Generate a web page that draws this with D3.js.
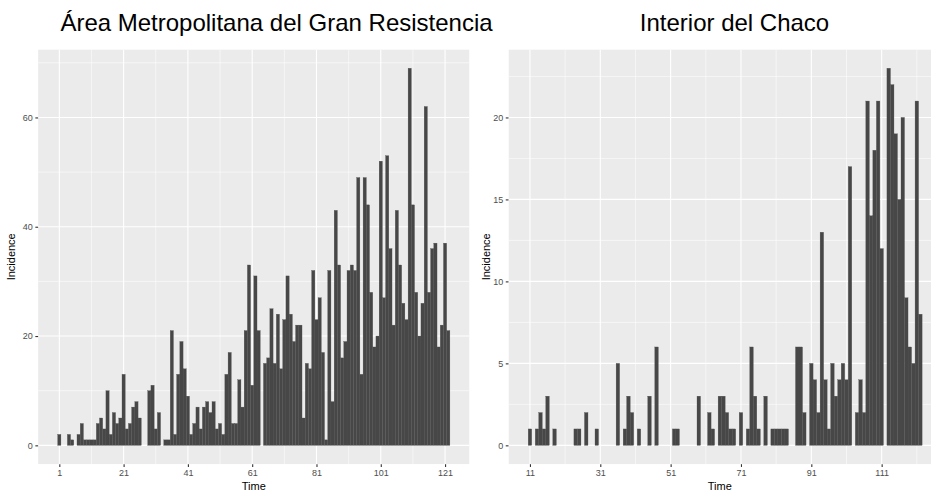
<!DOCTYPE html>
<html>
<head>
<meta charset="utf-8">
<script src="https://d3js.org/d3.v7.min.js"></script>
<style>
  body { margin: 0; background: #fff; }
  svg { display: block; font-family: "Liberation Sans", Arial, sans-serif; }
</style>
</head>
<body>
<div id="chart"></div>
<script>
// daily incidence
var amgrFirstDay = 1;
var amgrIncidence = [
  2, 0, 0, 2, 1, 0, 2, 4, 1, 1, 1, 1, 4, 5, 3, 10, 2, 6, 4, 5,
  13, 3, 4, 7, 8, 5, 0, 0, 10, 11, 3, 6, 0, 1, 1, 21, 2, 13, 19, 14,
  9, 2, 4, 7, 3, 7, 8, 6, 8, 3, 4, 2, 13, 17, 4, 4, 12, 7, 21, 33,
  11, 31, 21, 0, 15, 16, 25, 15, 24, 14, 23, 31, 24, 19, 22, 22, 5, 15, 14, 32,
  23, 27, 17, 1, 32, 8, 43, 33, 16, 19, 32, 33, 32, 49, 13, 49, 44, 28, 18, 20,
  52, 27, 53, 36, 22, 43, 33, 26, 23, 69, 44, 28, 20, 26, 62, 28, 36, 37, 18, 22,
  37, 21
];

var chacoFirstDay = 11;
var chacoIncidence = [
  1, 0, 1, 2, 1, 3, 0, 1, 0, 0, 0, 0, 0, 1, 1, 0, 2, 0, 0, 1,
  0, 0, 0, 0, 0, 5, 0, 1, 3, 2, 0, 1, 0, 0, 3, 0, 6, 0, 0, 0,
  0, 1, 1, 0, 0, 0, 0, 0, 3, 0, 0, 2, 1, 0, 3, 3, 2, 1, 1, 0,
  2, 0, 1, 6, 3, 1, 0, 3, 0, 1, 1, 1, 1, 1, 0, 0, 6, 6, 2, 0,
  5, 4, 2, 13, 4, 1, 5, 3, 4, 5, 4, 17, 0, 2, 4, 2, 21, 14, 18, 21,
  12, 0, 23, 22, 19, 15, 20, 9, 6, 5, 21, 8
];

var amgrXTicks = [1, 21, 41, 61, 81, 101, 121];
var amgrYTicks = [0, 20, 40, 60];
var chacoXTicks = [11, 31, 51, 71, 91, 111];
var chacoYTicks = [0, 5, 10, 15, 20];

var svgWidth = 931;
var svgHeight = 495;

var svg = d3.select("#chart")
  .append("svg")
  .attr("width", svgWidth)
  .attr("height", svgHeight);

function toRows(first, values) {
  return values.map(function(v, i) {
    return { day: first + i, value: v };
  });
}

function midpoints(ticks) {
  var m = [];
  for (var i = 0; i < ticks.length - 1; i++) {
    m.push((ticks[i] + ticks[i + 1]) / 2);
  }
  // one step past each end as well, clipped later
  var step = ticks[1] - ticks[0];
  m.unshift(ticks[0] - step / 2);
  m.push(ticks[ticks.length - 1] + step / 2);
  return m;
}

function drawPanel(opt) {
  var rows = toRows(opt.firstDay, opt.values);

  var x = d3.scaleLinear().domain(opt.xDomain).range([opt.left, opt.right]);
  var y = d3.scaleLinear().domain(opt.yDomain).range([opt.bottom, opt.top]);

  var clipId = "clip-" + opt.id;
  svg.append("clipPath").attr("id", clipId)
    .append("rect")
    .attr("x", opt.left).attr("y", opt.top)
    .attr("width", opt.right - opt.left)
    .attr("height", opt.bottom - opt.top);

  var g = svg.append("g").attr("clip-path", "url(#" + clipId + ")");

  g.append("rect")
    .attr("x", opt.left).attr("y", opt.top)
    .attr("width", opt.right - opt.left)
    .attr("height", opt.bottom - opt.top)
    .attr("fill", "#ebebeb");

  // minor grid
  g.selectAll(".xminor").data(midpoints(opt.xTicks)).enter()
    .append("line")
    .attr("x1", function(d) { return x(d); }).attr("x2", function(d) { return x(d); })
    .attr("y1", opt.top).attr("y2", opt.bottom)
    .attr("stroke", "#fff").attr("stroke-width", 0.55);
  g.selectAll(".yminor").data(midpoints(opt.yTicks)).enter()
    .append("line")
    .attr("y1", function(d) { return y(d); }).attr("y2", function(d) { return y(d); })
    .attr("x1", opt.left).attr("x2", opt.right)
    .attr("stroke", "#fff").attr("stroke-width", 0.55);

  // major grid
  g.selectAll(".xmajor").data(opt.xTicks).enter()
    .append("line")
    .attr("x1", function(d) { return x(d); }).attr("x2", function(d) { return x(d); })
    .attr("y1", opt.top).attr("y2", opt.bottom)
    .attr("stroke", "#fff").attr("stroke-width", 1.1);
  g.selectAll(".ymajor").data(opt.yTicks).enter()
    .append("line")
    .attr("y1", function(d) { return y(d); }).attr("y2", function(d) { return y(d); })
    .attr("x1", opt.left).attr("x2", opt.right)
    .attr("stroke", "#fff").attr("stroke-width", 1.1);

  // bars, one per day, full width
  g.selectAll(".bar").data(rows.filter(function(d) { return d.value > 0; })).enter()
    .append("rect")
    .attr("x", function(d) { return x(d.day - 0.5); })
    .attr("width", function(d) { return x(d.day + 0.5) - x(d.day - 0.5); })
    .attr("y", function(d) { return y(d.value); })
    .attr("height", function(d) { return y(0) - y(d.value); })
    .attr("fill", "#474747")
    .attr("stroke", "#4f4f4f")
    .attr("stroke-width", 0.3);

  // axes
  var bottomAxis = d3.axisBottom(x).tickValues(opt.xTicks).tickSize(2.75).tickPadding(3);
  var leftAxis = d3.axisLeft(y).tickValues(opt.yTicks).tickSize(2.75).tickPadding(2.5);

  var xa = svg.append("g")
    .attr("transform", "translate(0," + opt.bottom + ")")
    .call(bottomAxis);
  var ya = svg.append("g")
    .attr("transform", "translate(" + opt.left + ",0)")
    .call(leftAxis);

  [xa, ya].forEach(function(a) {
    a.select(".domain").remove();
    a.selectAll(".tick line").attr("stroke", "#333333").attr("stroke-width", 1.1);
    a.selectAll(".tick text")
      .attr("fill", "#4d4d4d")
      .style("font-size", "9px")
      .style("font-family", "Liberation Sans, Arial, sans-serif");
  });

  svg.append("text")
    .attr("x", (opt.left + Math.min(opt.right, svgWidth)) / 2)
    .attr("y", 490)
    .attr("text-anchor", "middle")
    .style("font-size", "11px")
    .text("Time");

  svg.append("text")
    .attr("transform", "translate(" + opt.yTitleX + "," + (opt.top + opt.bottom) / 2 + ") rotate(-90)")
    .attr("text-anchor", "middle")
    .style("font-size", "11px")
    .text("Incidence");

  svg.append("text")
    .attr("x", opt.titleX)
    .attr("y", 31)
    .attr("text-anchor", "middle")
    .style("font-size", "24px")
    .text(opt.title);
}

drawPanel({
  id: "amgr",
  title: "Área Metropolitana del Gran Resistencia",
  titleX: 276.5,
  firstDay: amgrFirstDay,
  values: amgrIncidence,
  xTicks: amgrXTicks,
  yTicks: amgrYTicks,
  xDomain: [-5.6, 128.6],
  yDomain: [-3.45, 72.45],
  left: 38.1, right: 469.5, top: 49.4, bottom: 464.2,
  yTitleX: 15
});

drawPanel({
  id: "chaco",
  title: "Interior del Chaco",
  titleX: 734.5,
  firstDay: chacoFirstDay,
  values: chacoIncidence,
  xTicks: chacoXTicks,
  yTicks: chacoYTicks,
  xDomain: [4.9, 128.1],
  yDomain: [-1.15, 24.15],
  left: 508.5, right: 941.8, top: 49.4, bottom: 464.2,
  yTitleX: 490
});
</script>
</body>
</html>
